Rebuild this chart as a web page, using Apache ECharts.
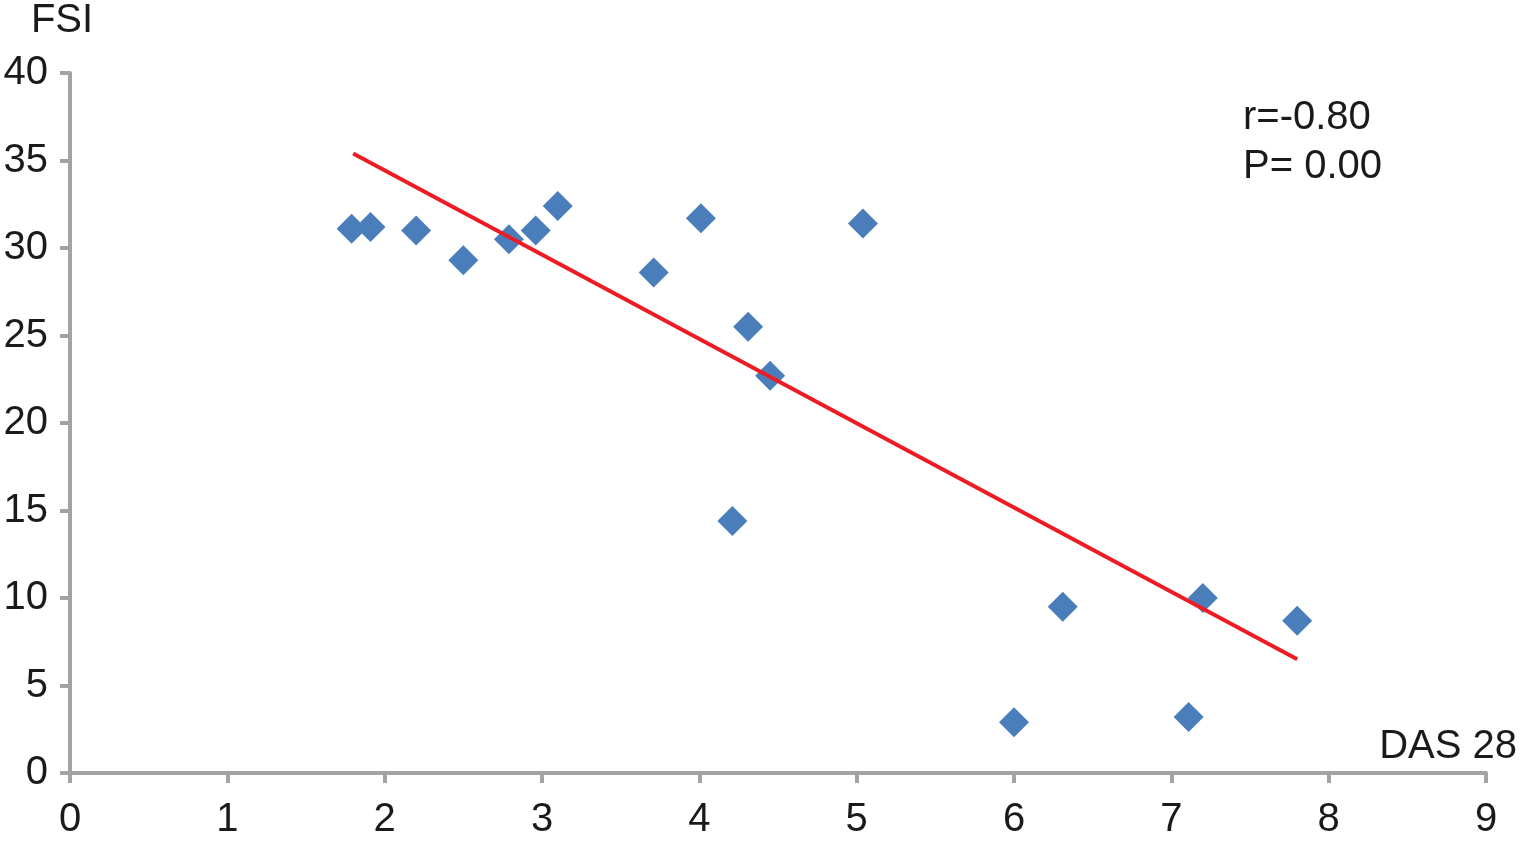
<!DOCTYPE html>
<html>
<head>
<meta charset="utf-8">
<title>FSI vs DAS 28</title>
<script src="https://cdn.jsdelivr.net/npm/echarts@6/dist/echarts.min.js"></script>
<style>
  html, body { margin: 0; padding: 0; background: #fff; }
  #chart { width: 1520px; height: 841px; }
</style>
</head>
<body>
<div id="chart"></div>
<script>
// values
const dasValues = [1.79, 1.91, 2.2, 2.5, 2.79, 2.96, 3.1, 3.71, 4.01, 4.31, 4.45, 4.21, 5.04, 6.0, 6.31, 7.11, 7.2, 7.8]
const fsiValues = [31.1, 31.2, 31.0, 29.3, 30.5, 31.0, 32.4, 28.6, 31.7, 25.5, 22.7, 14.4, 31.4, 2.9, 9.5, 3.2, 10.0, 8.7]

// trend line end points
const trendX = [1.8, 7.8]
const trendY = [35.4, 6.5]

const statLines = ['r=-0.80', 'P= 0.00']

const font = '"Liberation Sans", Arial, Helvetica, sans-serif'
const axisColor = '#a3a3a3'
const textColor = '#1a1a1a'
const fontSize = 40

const chart = echarts.init(document.getElementById('chart'))

chart.setOption({
  animation: false,
  grid: {
    left: 70,
    top: 73,
    right: 32,
    bottom: 68
  },
  xAxis: {
    type: 'value',
    min: 0,
    max: 9,
    interval: 1,
    splitLine: { show: false },
    axisLine: { lineStyle: { color: axisColor, width: 4 } },
    axisTick: { show: true, length: 10, lineStyle: { color: axisColor, width: 4 } },
    axisLabel: { color: textColor, fontSize: fontSize, fontFamily: font, margin: 27 },
    name: 'DAS 28',
    nameLocation: 'end',
    nameGap: 31,
    nameTextStyle: {
      color: textColor, fontSize: fontSize, fontFamily: font,
      align: 'right', verticalAlign: 'bottom', padding: [0, 0, 6, 0]
    }
  },
  yAxis: {
    type: 'value',
    min: 0,
    max: 40,
    interval: 5,
    splitLine: { show: false },
    axisLine: { show: true, lineStyle: { color: axisColor, width: 4 } },
    axisTick: { show: true, length: 10, lineStyle: { color: axisColor, width: 4 } },
    axisLabel: { color: textColor, fontSize: fontSize, fontFamily: font, margin: 22 },
    name: 'FSI',
    nameLocation: 'end',
    nameGap: 32,
    nameTextStyle: {
      color: textColor, fontSize: fontSize, fontFamily: font,
      align: 'center', padding: [0, 16, 0, 0]
    }
  },
  graphic: [
    {
      type: 'text',
      left: 1243,
      top: 93,
      style: {
        text: statLines.join('\n'),
        fontSize: fontSize,
        lineHeight: 49,
        fontFamily: font,
        fill: textColor
      }
    }
  ],
  series: [
    {
      type: 'line',
      data: trendX.map((x, i) => [x, trendY[i]]),
      symbol: 'none',
      lineStyle: { color: '#ec1c24', width: 4 },
      z: 3
    },
    {
      type: 'scatter',
      data: dasValues.map((x, i) => [x, fsiValues[i]]),
      symbol: 'diamond',
      symbolSize: 30,
      itemStyle: { color: '#4a7ebb', opacity: 1 },
      z: 2
    }
  ]
})
</script>
</body>
</html>
